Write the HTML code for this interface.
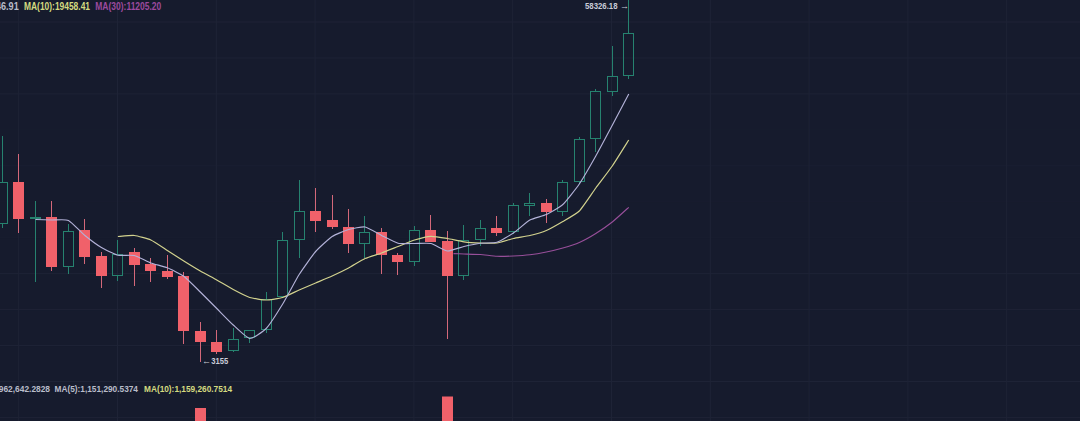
<!DOCTYPE html>
<html><head><meta charset="utf-8"><title>Chart</title>
<style>
html,body{margin:0;padding:0;background:#161b2d;width:1080px;height:421px;overflow:hidden}
svg{display:block}
.gr{stroke:#1e2336;stroke-width:1}.gr1{stroke:#1a1f32}.gr2{stroke:#181d2f}
text{font-family:"Liberation Sans",Arial,sans-serif;font-size:9.6px;font-weight:bold}
.tw{fill:#b9bdca}
.lb{fill:#c9ccd8;font-size:9px}
</style></head><body>
<svg width="1080" height="421" viewBox="0 0 1080 421">
<rect width="1080" height="421" fill="#161b2d"/>
<line x1="0" y1="22.00" x2="1080" y2="22.00" class="gr"/>
<line x1="0" y1="57.95" x2="1080" y2="57.95" class="gr"/>
<line x1="0" y1="93.90" x2="1080" y2="93.90" class="gr"/>
<line x1="0" y1="129.85" x2="1080" y2="129.85" class="gr2"/>
<line x1="0" y1="165.80" x2="1080" y2="165.80" class="gr1"/>
<line x1="0" y1="201.75" x2="1080" y2="201.75" class="gr2"/>
<line x1="0" y1="237.70" x2="1080" y2="237.70" class="gr2"/>
<line x1="0" y1="273.65" x2="1080" y2="273.65" class="gr"/>
<line x1="0" y1="309.60" x2="1080" y2="309.60" class="gr"/>
<line x1="0" y1="345.55" x2="1080" y2="345.55" class="gr"/>
<line x1="0" y1="381.50" x2="1080" y2="381.50" class="gr"/>
<line x1="0" y1="417.45" x2="1080" y2="417.45" class="gr"/>
<line x1="18.70" y1="0" x2="18.70" y2="421" class="gr"/>
<line x1="117.50" y1="0" x2="117.50" y2="421" class="gr"/>
<line x1="216.30" y1="0" x2="216.30" y2="421" class="gr"/>
<line x1="315.10" y1="0" x2="315.10" y2="421" class="gr"/>
<line x1="413.90" y1="0" x2="413.90" y2="421" class="gr"/>
<line x1="512.70" y1="0" x2="512.70" y2="421" class="gr"/>
<line x1="611.50" y1="0" x2="611.50" y2="421" class="gr"/>
<line x1="710.30" y1="0" x2="710.30" y2="421" class="gr"/>
<line x1="809.10" y1="0" x2="809.10" y2="421" class="gr"/>
<line x1="907.90" y1="0" x2="907.90" y2="421" class="gr"/>
<line x1="1006.70" y1="0" x2="1006.70" y2="421" class="gr"/>
<line x1="2.5" y1="136" x2="2.5" y2="182" stroke="#26826f"/>
<line x1="2.5" y1="224" x2="2.5" y2="228" stroke="#26826f"/>
<rect x="-2.5" y="182.5" width="10" height="41" fill="none" stroke="#26826f"/>
<line x1="18.5" y1="154" x2="18.5" y2="233" stroke="#d4687a"/>
<rect x="13" y="182" width="11" height="37" fill="#f0616a"/>
<line x1="35.5" y1="201" x2="35.5" y2="282" stroke="#26826f"/>
<rect x="30" y="217" width="11" height="2" fill="#26826f"/>
<line x1="51.5" y1="201" x2="51.5" y2="271" stroke="#d4687a"/>
<rect x="46" y="217" width="11" height="50" fill="#f0616a"/>
<line x1="68.5" y1="224" x2="68.5" y2="231" stroke="#26826f"/>
<line x1="68.5" y1="267" x2="68.5" y2="274" stroke="#26826f"/>
<rect x="63.5" y="231.5" width="10" height="35" fill="none" stroke="#26826f"/>
<line x1="84.5" y1="219" x2="84.5" y2="264" stroke="#d4687a"/>
<rect x="79" y="230" width="11" height="27" fill="#f0616a"/>
<line x1="101.5" y1="252" x2="101.5" y2="288" stroke="#d4687a"/>
<rect x="96" y="256" width="11" height="20" fill="#f0616a"/>
<line x1="117.5" y1="240" x2="117.5" y2="254" stroke="#26826f"/>
<line x1="117.5" y1="276" x2="117.5" y2="281" stroke="#26826f"/>
<rect x="112.5" y="254.5" width="10" height="21" fill="none" stroke="#26826f"/>
<line x1="134.5" y1="248" x2="134.5" y2="286" stroke="#d4687a"/>
<rect x="129" y="252" width="11" height="13" fill="#f0616a"/>
<line x1="150.5" y1="258" x2="150.5" y2="282" stroke="#d4687a"/>
<rect x="145" y="264" width="11" height="7" fill="#f0616a"/>
<line x1="167.5" y1="255" x2="167.5" y2="279" stroke="#d4687a"/>
<rect x="162" y="271" width="11" height="6" fill="#f0616a"/>
<line x1="183.5" y1="272" x2="183.5" y2="344" stroke="#d4687a"/>
<rect x="178" y="276" width="11" height="55" fill="#f0616a"/>
<line x1="200.5" y1="322" x2="200.5" y2="362" stroke="#d4687a"/>
<rect x="195" y="331" width="11" height="11" fill="#f0616a"/>
<line x1="216.5" y1="330" x2="216.5" y2="354" stroke="#d4687a"/>
<rect x="211" y="342" width="11" height="10" fill="#f0616a"/>
<line x1="233.5" y1="328" x2="233.5" y2="339" stroke="#26826f"/>
<line x1="233.5" y1="351" x2="233.5" y2="352" stroke="#26826f"/>
<rect x="228.5" y="339.5" width="10" height="11" fill="none" stroke="#26826f"/>
<line x1="249.5" y1="330" x2="249.5" y2="330" stroke="#26826f"/>
<line x1="249.5" y1="338" x2="249.5" y2="343" stroke="#26826f"/>
<rect x="244.5" y="330.5" width="10" height="7" fill="none" stroke="#26826f"/>
<line x1="266.5" y1="292" x2="266.5" y2="299" stroke="#26826f"/>
<line x1="266.5" y1="330" x2="266.5" y2="333" stroke="#26826f"/>
<rect x="261.5" y="299.5" width="10" height="30" fill="none" stroke="#26826f"/>
<line x1="282.5" y1="232" x2="282.5" y2="240" stroke="#26826f"/>
<line x1="282.5" y1="297" x2="282.5" y2="298" stroke="#26826f"/>
<rect x="277.5" y="240.5" width="10" height="56" fill="none" stroke="#26826f"/>
<line x1="299.5" y1="180" x2="299.5" y2="211" stroke="#26826f"/>
<line x1="299.5" y1="240" x2="299.5" y2="258" stroke="#26826f"/>
<rect x="294.5" y="211.5" width="10" height="28" fill="none" stroke="#26826f"/>
<line x1="315.5" y1="188" x2="315.5" y2="232" stroke="#d4687a"/>
<rect x="310" y="211" width="11" height="10" fill="#f0616a"/>
<line x1="332.5" y1="195" x2="332.5" y2="229" stroke="#d4687a"/>
<rect x="327" y="220" width="11" height="7" fill="#f0616a"/>
<line x1="348.5" y1="209" x2="348.5" y2="253" stroke="#d4687a"/>
<rect x="343" y="227" width="11" height="17" fill="#f0616a"/>
<line x1="364.5" y1="216" x2="364.5" y2="232" stroke="#26826f"/>
<line x1="364.5" y1="244" x2="364.5" y2="258" stroke="#26826f"/>
<rect x="359.5" y="232.5" width="10" height="11" fill="none" stroke="#26826f"/>
<line x1="381.5" y1="228" x2="381.5" y2="274" stroke="#d4687a"/>
<rect x="376" y="232" width="11" height="23" fill="#f0616a"/>
<line x1="397.5" y1="253" x2="397.5" y2="275" stroke="#d4687a"/>
<rect x="392" y="255" width="11" height="7" fill="#f0616a"/>
<line x1="414.5" y1="226" x2="414.5" y2="230" stroke="#26826f"/>
<line x1="414.5" y1="262" x2="414.5" y2="266" stroke="#26826f"/>
<rect x="409.5" y="230.5" width="10" height="31" fill="none" stroke="#26826f"/>
<line x1="430.5" y1="215" x2="430.5" y2="242" stroke="#d4687a"/>
<rect x="425" y="230" width="11" height="12" fill="#f0616a"/>
<line x1="447.5" y1="231" x2="447.5" y2="339" stroke="#d4687a"/>
<rect x="442" y="241" width="11" height="35" fill="#f0616a"/>
<line x1="463.5" y1="225" x2="463.5" y2="240" stroke="#26826f"/>
<line x1="463.5" y1="276" x2="463.5" y2="280" stroke="#26826f"/>
<rect x="458.5" y="240.5" width="10" height="35" fill="none" stroke="#26826f"/>
<line x1="480.5" y1="220" x2="480.5" y2="228" stroke="#26826f"/>
<line x1="480.5" y1="240" x2="480.5" y2="246" stroke="#26826f"/>
<rect x="475.5" y="228.5" width="10" height="11" fill="none" stroke="#26826f"/>
<line x1="496.5" y1="216" x2="496.5" y2="236" stroke="#d4687a"/>
<rect x="491" y="228" width="11" height="5" fill="#f0616a"/>
<line x1="513.5" y1="203" x2="513.5" y2="205" stroke="#26826f"/>
<line x1="513.5" y1="232" x2="513.5" y2="234" stroke="#26826f"/>
<rect x="508.5" y="205.5" width="10" height="26" fill="none" stroke="#26826f"/>
<line x1="529.5" y1="193" x2="529.5" y2="203" stroke="#26826f"/>
<line x1="529.5" y1="206" x2="529.5" y2="216" stroke="#26826f"/>
<rect x="524.5" y="203.5" width="10" height="2" fill="none" stroke="#26826f"/>
<line x1="546.5" y1="199" x2="546.5" y2="223" stroke="#d4687a"/>
<rect x="541" y="203" width="11" height="9" fill="#f0616a"/>
<line x1="562.5" y1="180" x2="562.5" y2="182" stroke="#26826f"/>
<line x1="562.5" y1="212" x2="562.5" y2="216" stroke="#26826f"/>
<rect x="557.5" y="182.5" width="10" height="29" fill="none" stroke="#26826f"/>
<line x1="579.5" y1="137" x2="579.5" y2="139" stroke="#26826f"/>
<line x1="579.5" y1="182" x2="579.5" y2="184" stroke="#26826f"/>
<rect x="574.5" y="139.5" width="10" height="42" fill="none" stroke="#26826f"/>
<line x1="595.5" y1="89" x2="595.5" y2="91" stroke="#26826f"/>
<line x1="595.5" y1="139" x2="595.5" y2="152" stroke="#26826f"/>
<rect x="590.5" y="91.5" width="10" height="47" fill="none" stroke="#26826f"/>
<line x1="612.5" y1="46" x2="612.5" y2="76" stroke="#26826f"/>
<line x1="612.5" y1="92" x2="612.5" y2="96" stroke="#26826f"/>
<rect x="607.5" y="76.5" width="10" height="15" fill="none" stroke="#26826f"/>
<line x1="628.5" y1="0" x2="628.5" y2="33" stroke="#26826f"/>
<line x1="628.5" y1="76" x2="628.5" y2="79" stroke="#26826f"/>
<rect x="623.5" y="33.5" width="10" height="42" fill="none" stroke="#26826f"/>
<path d="M453.50,253.60 C454.37,253.63 461.71,253.93 463.96,254.00 C466.20,254.07 477.69,254.31 480.44,254.50 C483.19,254.69 494.17,256.18 496.92,256.30 C499.67,256.43 510.65,256.12 513.40,256.00 C516.15,255.88 527.13,255.13 529.88,254.80 C532.63,254.47 543.61,252.57 546.36,252.00 C549.11,251.43 560.09,248.79 562.84,248.00 C565.59,247.21 576.57,243.71 579.32,242.50 C582.07,241.29 593.05,235.21 595.80,233.50 C598.55,231.79 609.53,224.18 612.28,222.00 C615.03,219.82 627.39,208.53 628.76,207.30" fill="none" stroke="#984f9a" stroke-width="1.1"/>
<path d="M117.88,236.50 C119.25,236.42 131.61,235.21 134.36,235.50 C137.11,235.79 148.09,238.76 150.84,240.00 C153.59,241.24 164.57,248.65 167.32,250.40 C170.07,252.15 181.05,259.28 183.80,261.00 C186.55,262.72 197.53,269.42 200.28,271.00 C203.03,272.58 214.01,278.46 216.76,280.00 C219.51,281.54 230.49,288.04 233.24,289.50 C235.99,290.96 246.97,296.62 249.72,297.50 C252.47,298.38 263.45,300.00 266.20,300.00 C268.95,300.00 279.93,298.33 282.68,297.50 C285.43,296.67 296.41,291.21 299.16,290.00 C301.91,288.79 312.89,284.17 315.64,283.00 C318.39,281.83 329.37,277.25 332.12,276.00 C334.87,274.75 345.85,269.46 348.60,268.00 C351.35,266.54 362.33,259.75 365.08,258.50 C367.83,257.25 378.81,254.00 381.56,253.00 C384.31,252.00 395.29,247.58 398.04,246.50 C400.79,245.42 411.77,240.85 414.52,240.00 C417.27,239.15 428.25,236.43 431.00,236.30 C433.75,236.18 444.73,238.04 447.48,238.50 C450.23,238.96 461.21,241.43 463.96,241.80 C466.71,242.18 477.69,242.90 480.44,243.00 C483.19,243.10 494.17,243.38 496.92,243.00 C499.67,242.62 510.65,239.12 513.40,238.50 C516.15,237.88 527.13,236.17 529.88,235.50 C532.63,234.83 543.61,231.67 546.36,230.50 C549.11,229.33 560.09,223.12 562.84,221.50 C565.59,219.88 576.57,213.79 579.32,211.00 C582.07,208.21 593.05,191.75 595.80,188.00 C598.55,184.25 609.53,170.00 612.28,166.00 C615.03,162.00 627.39,142.17 628.76,140.00" fill="none" stroke="#d2d28e" stroke-width="1.2"/>
<path d="M35.48,219.50 C36.85,219.54 49.21,219.93 51.96,220.00 C54.71,220.07 65.69,219.11 68.44,220.40 C71.19,221.69 82.17,233.24 84.92,235.50 C87.67,237.76 98.65,245.86 101.40,247.50 C104.15,249.14 115.13,254.53 117.88,255.20 C120.63,255.87 131.61,254.85 134.36,255.50 C137.11,256.15 148.09,261.98 150.84,263.00 C153.59,264.02 164.57,266.69 167.32,267.80 C170.07,268.91 181.05,274.28 183.80,276.30 C186.55,278.32 197.53,289.32 200.28,292.00 C203.03,294.68 214.01,305.75 216.76,308.50 C219.51,311.25 230.49,322.50 233.24,325.00 C235.99,327.50 246.97,338.21 249.72,338.50 C252.47,338.79 263.45,331.38 266.20,328.50 C268.95,325.62 279.93,308.50 282.68,304.00 C285.43,299.50 296.41,278.88 299.16,274.50 C301.91,270.12 312.89,254.67 315.64,251.50 C318.39,248.33 329.37,238.33 332.12,236.50 C334.87,234.67 345.85,230.29 348.60,229.50 C351.35,228.71 362.33,226.50 365.08,227.00 C367.83,227.50 378.81,234.15 381.56,235.50 C384.31,236.85 395.29,242.53 398.04,243.20 C400.79,243.87 411.77,243.47 414.52,243.50 C417.27,243.53 428.25,242.88 431.00,243.50 C433.75,244.12 444.73,250.75 447.48,251.00 C450.23,251.25 461.21,247.15 463.96,246.50 C466.71,245.85 477.69,243.55 480.44,243.20 C483.19,242.85 494.17,243.15 496.92,242.30 C499.67,241.45 510.65,234.86 513.40,233.00 C516.15,231.14 527.13,221.54 529.88,220.00 C532.63,218.46 543.61,215.79 546.36,214.50 C549.11,213.21 560.09,207.04 562.84,204.50 C565.59,201.96 576.57,188.04 579.32,184.00 C582.07,179.96 593.05,160.89 595.80,156.00 C598.55,151.11 609.53,130.47 612.28,125.30 C615.03,120.13 627.39,96.61 628.76,94.00" fill="none" stroke="#b3b2d8" stroke-width="1.15"/>
<rect x="195" y="408" width="11" height="13" fill="#f0616a"/>
<rect x="442" y="396.5" width="11" height="25" fill="#f0616a"/>
<text x="585" y="9" class="lb" textLength="32.5" lengthAdjust="spacingAndGlyphs">58326.18</text>
<text x="620" y="9" class="lb">→</text>
<text x="202" y="364" class="lb">←</text>
<text x="211.25" y="364" class="lb" textLength="17" lengthAdjust="spacingAndGlyphs">3155</text>
<text x="-4" y="10" class="tw" style="font-size:10px" textLength="22.7" lengthAdjust="spacingAndGlyphs">46.91</text>
<text x="24" y="10" class="tl" style="font-size:10px" fill="#d4da80" textLength="66" lengthAdjust="spacingAndGlyphs">MA(10):19458.41</text>
<text x="95.3" y="10" class="tl" style="font-size:10px" fill="#9c4a9e" textLength="66" lengthAdjust="spacingAndGlyphs">MA(30):11205.20</text>
<text x="-1.2" y="392" class="tw" style="font-size:9.2px" textLength="51.2" lengthAdjust="spacingAndGlyphs">962,642.2828</text>
<text x="54.5" y="392" class="tw" style="font-size:9.2px" textLength="83.5" lengthAdjust="spacingAndGlyphs">MA(5):1,151,290.5374</text>
<text x="144" y="392" class="tl" style="font-size:9.2px" fill="#d4da80" textLength="88" lengthAdjust="spacingAndGlyphs">MA(10):1,159,260.7514</text>
</svg>
</body></html>
